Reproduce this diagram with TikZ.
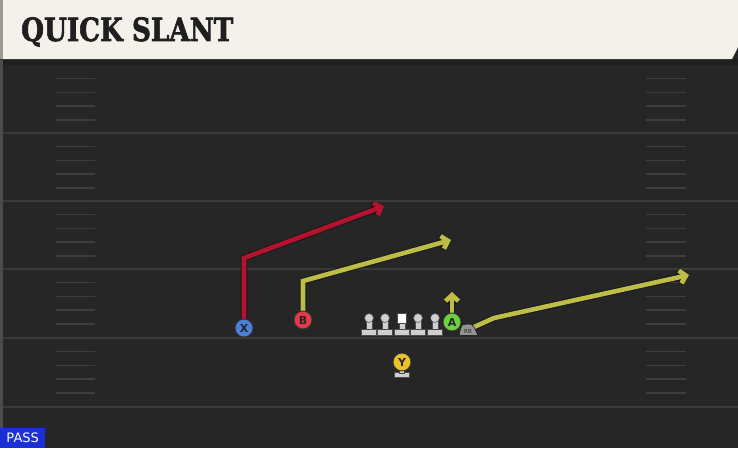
\documentclass[tikz,border=0pt]{standalone}
\usepackage{fontspec}
\newfontfamily\titlefont[FakeBold=2.2]{DejaVu Serif Bold}
\newfontfamily\lblfont{DejaVu Sans}
\usetikzlibrary{arrows.meta}
\definecolor{hdr}{HTML}{F4F1EA}
\definecolor{field}{HTML}{262626}
\definecolor{yardc}{HTML}{3A3A3A}
\definecolor{hashc}{HTML}{3E3E3E}
\definecolor{redroute}{HTML}{B4122E}
\definecolor{yelroute}{HTML}{BDBD48}
\definecolor{xblue}{HTML}{4B7FDB}
\definecolor{bred}{HTML}{E53A45}
\definecolor{agreen}{HTML}{6DD03F}
\definecolor{yyel}{HTML}{EBC02A}
\definecolor{lman}{HTML}{CFCFCF}
\definecolor{passblue}{HTML}{1A2FD8}
\tikzset{
  routeout/.style={line width=6.6pt, black!90, line join=miter, -{Straight Barb[length=6pt,width=13pt,line width=6.6pt]}},
  routein/.style={line width=4.6pt, #1, line join=miter, -{Straight Barb[length=6pt,width=13pt,line width=4.6pt]}},
  player/.style={circle, draw=black!80, line width=0.9pt, fill=#1, minimum size=18pt, inner sep=0pt, font=\lblfont\bfseries\fontsize{11}{11}\selectfont, text=black!85},
  hashmark/.style={line width=1.4pt, hashc},
  yardline/.style={line width=1.6pt, yardc},
  lpart/.style={fill=lman, draw=black!70, line width=0.5pt}
}
\begin{document}
\begin{tikzpicture}[x=1pt,y=-1pt]
\useasboundingbox (0,0) rectangle (738,448);
% field
\fill[field] (0,0) rectangle (738,448);
\fill[black!88] (0,59) rectangle (738,65);
\fill[black!70] (0,60) rectangle (3,448);
% yard lines
\foreach \yy in {133,201,269,338,407} {
  \draw[yardline] (3,\yy) -- (738,\yy);
}
% hash marks
\foreach \base in {65,133,201,269,338} {
  \foreach \k in {1,2,3,4} {
    \pgfmathsetmacro{\hy}{\base+\k*13.7}
    \draw[hashmark] (56,\hy) -- (95,\hy);
    \draw[hashmark] (646,\hy) -- (686,\hy);
  }
}
% header
\fill[hdr] (0,0) -- (738,0) -- (738,47) -- (732,59) -- (0,59) -- cycle;
\fill[black!40] (0,0) rectangle (3,59);
\node[anchor=west, inner sep=0pt, xscale=0.82] (title) at (21,32)
  {\titlefont\fontsize{32}{32}\selectfont\color{black!88}QUICK SLANT};
% players (coordinates)
\coordinate (xp) at (244,328);
\coordinate (bp) at (303,320);
\coordinate (ap) at (452,322);
\coordinate (rbp) at (468,330);
\coordinate (yp) at (402,362);
% route anchors
\coordinate (xbreak) at (244,258);
\coordinate (xend) at (384,206);
\coordinate (bbreak) at (303,281);
\coordinate (bend) at (451,240);
\coordinate (aend) at (452,292);
\coordinate (rbstart) at (474,327);
\coordinate (rbmid) at (494,318);
\coordinate (rbend) at (689,275);
% routes
\draw[routeout] (xp) -- (xbreak) -- (xend);
\draw[routein=redroute] (xp) -- (xbreak) -- (xend);
\draw[routeout] (bp) -- (bbreak) -- (bend);
\draw[routein=yelroute] (bp) -- (bbreak) -- (bend);
\draw[routeout] (ap) -- (aend);
\draw[routein=yelroute] (ap) -- (aend);
\draw[routeout] (rbstart) -- (rbmid) -- (rbend);
\draw[routein=yelroute] (rbstart) -- (rbmid) -- (rbend);
% linemen
\foreach \lx/\nm in {369/lt,385/lg,418/rg,435/rt} {
  \filldraw[lpart] (\lx-3,319) rectangle (\lx+3,330);
  \filldraw[lpart] (\lx-7.5,329) rectangle (\lx+7.5,335);
  \node[circle, lpart, minimum size=9pt, inner sep=0pt] (\nm) at (\lx,318) {};
}
% center
\filldraw[lpart] (399,320) rectangle (405,330);
\filldraw[lpart] (394.5,329) rectangle (409.5,335);
\node[rectangle, fill=white, draw=black!70, line width=0.5pt, minimum width=9pt, minimum height=10pt, inner sep=0pt] (cen) at (402,318.5) {};
% RB
\filldraw[fill=black!42, draw=black!85, line width=0.6pt, rounded corners=2pt]
  (459,335.5) -- (461,327) .. controls (463,324) and (470,324) .. (473,325) -- (478,335.5) -- cycle;
\node[font=\lblfont\fontsize{5.5}{5.5}\selectfont, text=black!85, inner sep=0pt] (rb) at (468,331) {RB};
% Y base
\filldraw[lpart] (394.5,372) rectangle (409.5,377);
\filldraw[lpart] (399.5,368) rectangle (404.5,373);
% skill players
\node[player=xblue] (X) at (xp) {X};
\node[player=bred] (B) at (bp) {B};
\node[player=agreen] (A) at (ap) {A};
\node[player=yyel] (Y) at (yp) {Y};
% PASS label
\node[anchor=south west, fill=passblue, text=white, inner xsep=3pt, inner ysep=2pt, minimum width=45pt, minimum height=20pt, font=\lblfont\fontsize{13}{13}\selectfont] (pass) at (0,448) {PASS};
\end{tikzpicture}
\end{document}
